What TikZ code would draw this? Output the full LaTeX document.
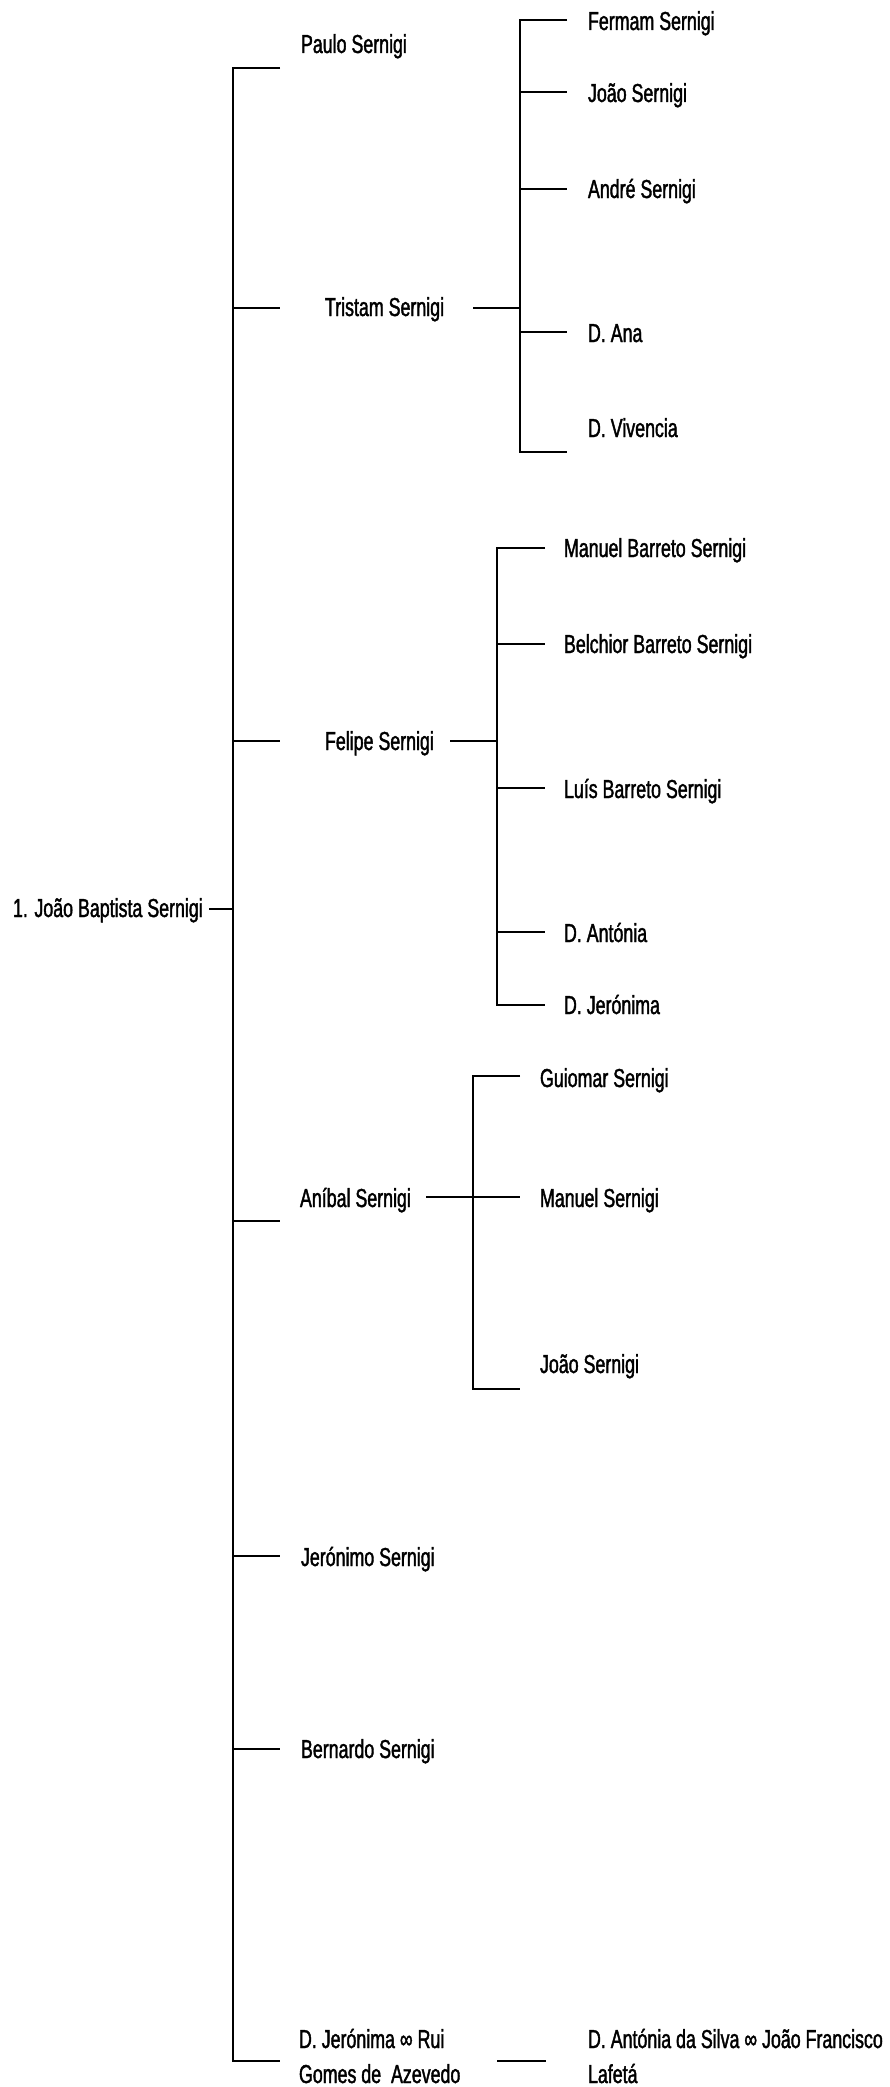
\documentclass[tikz,border=0pt]{standalone}
\usepackage{fontspec}
\setmainfont{Liberation Sans}[FakeStretch=0.685, FakeBold=1.5]
\begin{document}
\begin{tikzpicture}[x=1pt,y=-1pt,
  person/.style={anchor=base west, inner sep=0pt, outer sep=0pt,
                 font=\fontsize{26}{35}\selectfont},
  link/.style={line width=2pt, line join=miter, line cap=butt}]
\useasboundingbox (0,0) rectangle (890,2087);

% ---------- names ----------
\node[person] (root)     at (13,917)  {1. João Baptista Sernigi};

\node[person] (paulo)    at (301,53)   {Paulo Sernigi};
\node[person] (tristam)  at (325,316)  {Tristam Sernigi};
\node[person] (felipe)   at (325,750)  {Felipe Sernigi};
\node[person] (anibal)   at (300,1207) {Aníbal Sernigi};
\node[person] (jeronimo) at (301,1566) {Jerónimo Sernigi};
\node[person] (bernardo) at (301,1758) {Bernardo Sernigi};
\node[person] (djeronima) at (299,2048)
  {\begin{tabular}[t]{@{}l@{}}D. Jerónima ∞ Rui\\Gomes de\ \ Azevedo\end{tabular}};

\node[person] (fermam)   at (588,30)   {Fermam Sernigi};
\node[person] (joaoT)    at (588,102)  {João Sernigi};
\node[person] (andre)    at (588,198)  {André Sernigi};
\node[person] (ana)      at (588,342)  {D. Ana};
\node[person] (vivencia) at (588,437)  {D. Vivencia};

\node[person] (manuelB)  at (564,557)  {Manuel Barreto Sernigi};
\node[person] (belchior) at (564,653)  {Belchior Barreto Sernigi};
\node[person] (luis)     at (564,798)  {Luís Barreto Sernigi};
\node[person] (antonia)  at (564,942)  {D. Antónia};
\node[person] (jeronimaF) at (564,1014) {D. Jerónima};

\node[person] (guiomar)  at (540,1087) {Guiomar Sernigi};
\node[person] (manuelA)  at (540,1207) {Manuel Sernigi};
\node[person] (joaoA)    at (540,1373) {João Sernigi};

\node[person] (antoniaS) at (588,2048)
  {\begin{tabular}[t]{@{}l@{}}D. Antónia da Silva ∞ João Francisco\\Lafetá\end{tabular}};

% ---------- main bracket (children of João Baptista) ----------
\coordinate (rootEnd)  at (209,909);
\coordinate (mRoot)    at (233,909);
\coordinate (mTop)     at (233,68);
\coordinate (mBot)     at (233,2061);
\coordinate (tPaulo)   at (280,68);
\coordinate (mTristam) at (233,308);
\coordinate (tTristam) at (280,308);
\coordinate (mFelipe)  at (233,741);
\coordinate (tFelipe)  at (280,741);
\coordinate (mAnibal)  at (233,1221);
\coordinate (tAnibal)  at (280,1221);
\coordinate (mJeronimo) at (233,1556);
\coordinate (tJeronimo) at (280,1556);
\coordinate (mBernardo) at (233,1749);
\coordinate (tBernardo) at (280,1749);
\coordinate (tDJeronima) at (280,2061);

\draw[link] (rootEnd) -- (mRoot);
\draw[link] (tPaulo) -- (mTop) -- (mBot) -- (tDJeronima);
\draw[link] (mTristam) -- (tTristam);
\draw[link] (mFelipe) -- (tFelipe);
\draw[link] (mAnibal) -- (tAnibal);
\draw[link] (mJeronimo) -- (tJeronimo);
\draw[link] (mBernardo) -- (tBernardo);

% ---------- Tristam's children ----------
\coordinate (tsOut)  at (473,308);
\coordinate (tsMid)  at (520,308);
\coordinate (tsTop)  at (520,20);
\coordinate (tsBot)  at (520,452);
\coordinate (tFermam) at (567,20);
\coordinate (sJoaoT)  at (520,92);
\coordinate (tJoaoT)  at (567,92);
\coordinate (sAndre)  at (520,189);
\coordinate (tAndre)  at (567,189);
\coordinate (sAna)    at (520,332);
\coordinate (tAna)    at (567,332);
\coordinate (tVivencia) at (567,452);

\draw[link] (tsOut) -- (tsMid);
\draw[link] (tFermam) -- (tsTop) -- (tsBot) -- (tVivencia);
\draw[link] (sJoaoT) -- (tJoaoT);
\draw[link] (sAndre) -- (tAndre);
\draw[link] (sAna) -- (tAna);

% ---------- Felipe's children ----------
\coordinate (fsOut)  at (450,741);
\coordinate (fsMid)  at (497,741);
\coordinate (fsTop)  at (497,548);
\coordinate (fsBot)  at (497,1005);
\coordinate (tManuelB) at (545,548);
\coordinate (sBelchior) at (497,644);
\coordinate (tBelchior) at (545,644);
\coordinate (sLuis)    at (497,788);
\coordinate (tLuis)    at (545,788);
\coordinate (sAntonia) at (497,932);
\coordinate (tAntonia) at (545,932);
\coordinate (tJeronimaF) at (545,1005);

\draw[link] (fsOut) -- (fsMid);
\draw[link] (tManuelB) -- (fsTop) -- (fsBot) -- (tJeronimaF);
\draw[link] (sBelchior) -- (tBelchior);
\draw[link] (sLuis) -- (tLuis);
\draw[link] (sAntonia) -- (tAntonia);

% ---------- Aníbal's children ----------
\coordinate (asOut)  at (426,1197);
\coordinate (asTop)  at (473,1076);
\coordinate (asBot)  at (473,1389);
\coordinate (tGuiomar) at (520,1076);
\coordinate (tManuelA) at (520,1197);
\coordinate (tJoaoA)   at (520,1389);

\draw[link] (asOut) -- (tManuelA);
\draw[link] (tGuiomar) -- (asTop) -- (asBot) -- (tJoaoA);

% ---------- D. Jerónima's daughter ----------
\coordinate (djOut) at (497,2061);
\coordinate (djIn)  at (546,2061);
\draw[link] (djOut) -- (djIn);
\end{tikzpicture}
\end{document}
